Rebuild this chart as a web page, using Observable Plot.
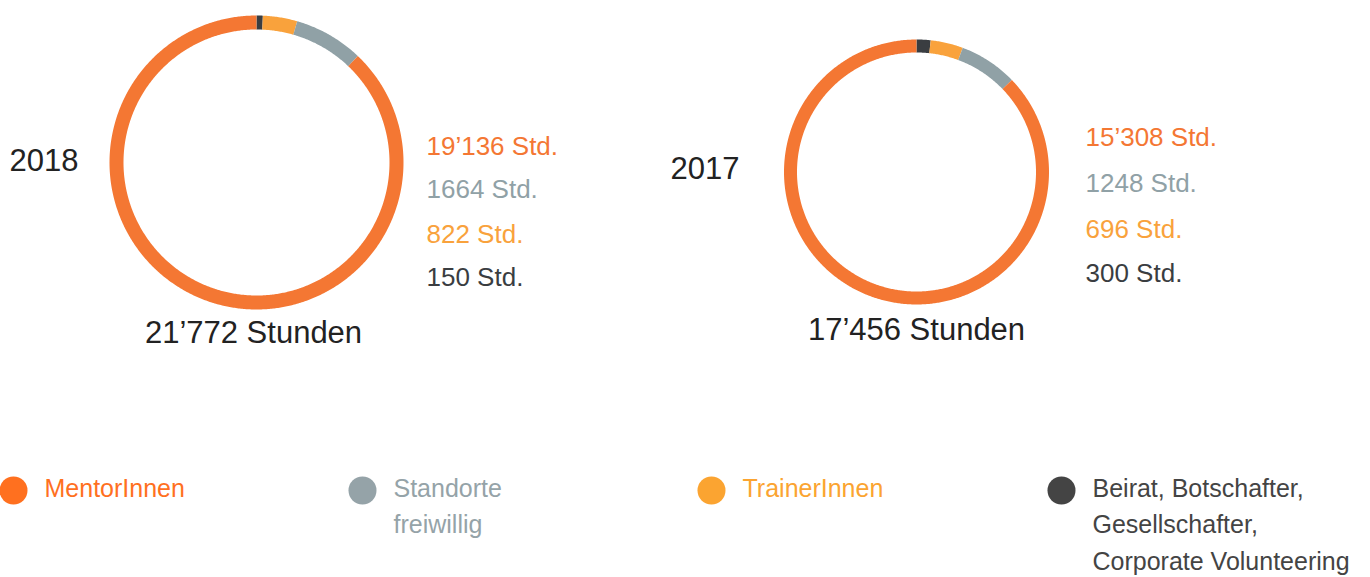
<!DOCTYPE html>
<html><head><meta charset="utf-8">
<script src="https://cdn.jsdelivr.net/npm/d3@7"></script>
<script src="https://cdn.jsdelivr.net/npm/@observablehq/plot@0.6"></script>
<style>body{margin:0;background:#fff}</style>
</head><body><div id="chart"></div>
<script>
// ---- data ----
const categories = ["MentorInnen", "Standorte freiwillig", "TrainerInnen", "Beirat, Botschafter, Gesellschafter, Corporate Volunteering"];
const legendLabels = ["MentorInnen", "Standorte\nfreiwillig", "TrainerInnen", "Beirat, Botschafter,\nGesellschafter,\nCorporate Volunteering"];
const years = ["2018", "2017"];
const hours2018 = [19136, 1664, 822, 150];
const hours2017 = [15308, 1248, 696, 300];
const totalLabels = ["21’772 Stunden", "17’456 Stunden"];
const colors = ["#F47733", "#90A1A6", "#F9A23C", "#3A3D41"];
const legendColors = ["#FF701F", "#95A3A8", "#FBA431", "#444444"];

// ---- layout ----
const W = 1370, H = 577;
const layouts = [
  {cx: 256, cy: 162, r: 140, w: 14, labelX: 426, labelY: [146, 189.5, 234.5, 277], yearX: 9, yearY: 161, totalX: 253, totalY: 333},
  {cx: 916, cy: 171.5, r: 126, w: 13, labelX: 1085, labelY: [137.5, 183.5, 229.5, 273.5], yearX: 670, yearY: 169, totalX: 916, totalY: 330}
];
const legendX = [13, 362, 711, 1061];
const legendY = 490;

const fmt = v => v >= 10000 ? d3.format(",")(v).replace(",", "’") : String(v);
const series = [hours2018, hours2017];

function arcPoints(values, L, yi) {
  const items = categories.map((c, i) => ({cat: c, v: values[i]})).reverse();
  const arcs = d3.pie().sort(null).value(d => d.v)(items);
  const pts = [];
  arcs.forEach((a, k) => {
    const n = Math.max(2, Math.ceil((a.endAngle - a.startAngle) / (Math.PI / 360)));
    for (let j = 0; j <= n; j++) {
      const t = a.startAngle + (a.endAngle - a.startAngle) * j / n;
      pts.push({key: yi + "-" + k, cat: a.data.cat, x: L.cx + L.r * Math.sin(t), y: L.cy - L.r * Math.cos(t)});
    }
  });
  return pts;
}

const marks = [];
series.forEach((vals, yi) => {
  const L = layouts[yi];
  marks.push(Plot.line(arcPoints(vals, L, yi), {x: "x", y: "y", z: "key", stroke: "cat", strokeWidth: L.w, strokeLinecap: "butt", strokeLinejoin: "round"}));
  const rows = categories.map((c, i) => ({cat: c, text: fmt(vals[i]) + " Std.", x: L.labelX, y: L.labelY[i]}));
  marks.push(Plot.text(rows, {x: "x", y: "y", text: "text", fill: "cat", textAnchor: "start", fontSize: 26}));
  marks.push(Plot.text([years[yi]], {x: L.yearX, y: L.yearY, text: d => d, fill: "#222", textAnchor: "start", fontSize: 31}));
  marks.push(Plot.text([totalLabels[yi]], {x: L.totalX, y: L.totalY, text: d => d, fill: "#222", textAnchor: "middle", fontSize: 31}));
});
const legendRows = categories.map((c, i) => ({cat: c, label: legendLabels[i], x: legendX[i], col: legendColors[i]}));
marks.push(Plot.dot(legendRows, {x: "x", y: () => legendY, r: 14, fill: d => d.col, stroke: null}));
marks.push(Plot.text(legendRows, {x: d => d.x + 31, y: () => legendY - 19.5, text: "label", fill: d => d.col, textAnchor: "start", lineAnchor: "top", fontSize: 25, lineHeight: 1.46}));

const chart = Plot.plot({
  width: W, height: H, margin: 0,
  x: {domain: [0, W], range: [0, W], axis: null},
  y: {domain: [0, H], range: [0, H], axis: null},
  color: {domain: categories, range: colors},
  style: {fontFamily: "'Liberation Sans', Arial, sans-serif", background: "#fff"},
  marks
});
document.getElementById("chart").appendChild(chart);
</script>
</body></html>
